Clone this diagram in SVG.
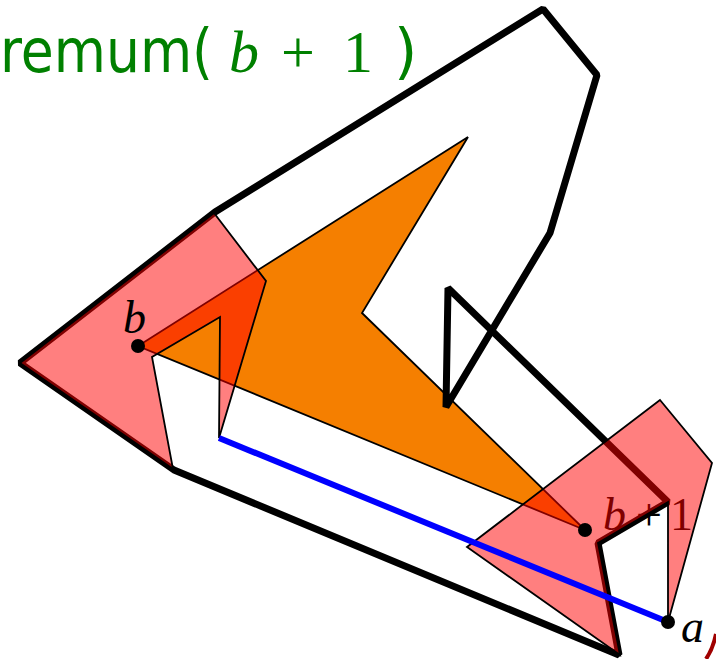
<svg xmlns="http://www.w3.org/2000/svg" width="716" height="659" viewBox="0 0 716 659">
<style>
.thick{fill:none;stroke:#000;stroke-width:7;stroke-linejoin:bevel}
.pink{fill:#ff0000;fill-opacity:0.5;stroke:#000;stroke-width:1.8;stroke-linejoin:miter}
.lbl{font-family:"Liberation Serif","DejaVu Serif",serif;font-style:italic;font-size:46px;fill:#000}
.dot{fill:#000}
.math{font-family:"Liberation Serif","DejaVu Serif",serif;font-size:60px}
</style>
<rect width="716" height="659" fill="#fff"/>
<g id="orange-region">
<polygon points="138,346 468,137 362,313 585,530" fill="#f57f00" stroke="#000" stroke-width="1.8" stroke-linejoin="miter"/>
</g>
<g id="outer-polygon">
<polygon class="thick" points="215,212 543,9 597,75 550,233 446,407 448,288 668,502 598,543 619,655 174,470 20,363"/>
</g>
<g id="label-b1">
<text x="603" y="530" class="lbl">b<tspan font-style="normal" dx="10">+</tspan><tspan font-style="normal" dx="8">1</tspan></text>
</g>
<g id="pink-left">
<polygon class="pink" points="20,363 214,213 266,281 219,438 220,317 152,357 173,469"/>
</g>
<g id="pink-right">
<polygon class="pink" points="660,400 712,463 668,622 668,502 598,543 620,655 467,547"/>
</g>
<g id="connectors">
<line x1="219" y1="438" x2="668" y2="622" stroke="#0000ff" stroke-width="6"/>
<path d="M716,634 Q713,649 706,659" fill="none" stroke="#a00000" stroke-width="4"/>
</g>
<g id="point-b">
<circle class="dot" cx="138" cy="346" r="7"/>
<text x="123" y="333" class="lbl">b</text>
</g>
<g id="point-b1">
<circle class="dot" cx="585" cy="530" r="7"/>
</g>
<g id="point-a">
<circle class="dot" cx="668" cy="622" r="7"/>
<text x="681" y="642" class="lbl">a</text>
</g>
<g id="title">
<text y="72" fill="#008000" font-size="60" font-family="'DejaVu Sans','Open Sans',sans-serif"><tspan x="0" textLength="213" lengthAdjust="spacingAndGlyphs">remum(</tspan><tspan x="229" class="math" font-style="italic">b</tspan><tspan x="281" class="math" font-size="70">+</tspan><tspan x="343" class="math">1</tspan><tspan x="394">)</tspan></text>
</g>
</svg>
